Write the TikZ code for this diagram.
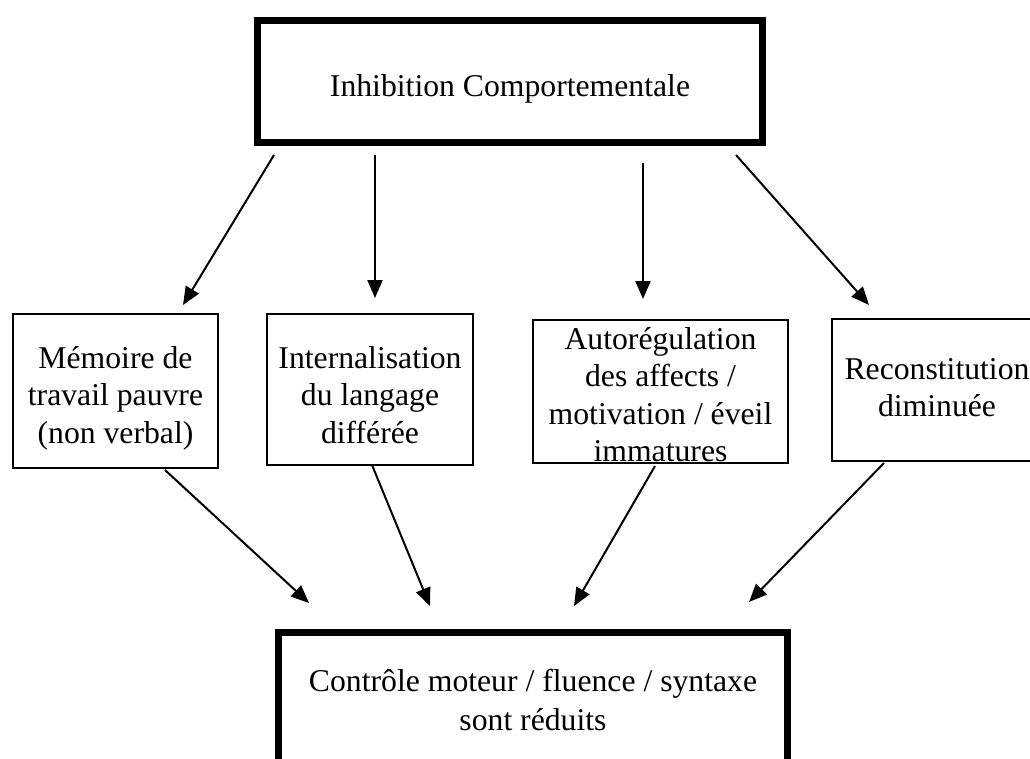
\documentclass[tikz,border=0pt]{standalone}
\usepackage{fontspec}
\setmainfont{Liberation Serif}
\usetikzlibrary{calc,arrows.meta}

\begin{document}
\begin{tikzpicture}[x=1pt,y=-1pt,line width=2pt,
  font=\fontsize{31.7pt}{37.5pt}\selectfont,
  box/.style={draw,anchor=north,inner sep=0pt,align=center},
  bigbox/.style={box,line width=7pt},
  >={Triangle[length=18pt,width=15pt]}]
  \clip (0,0) rectangle (1030,758);
  \node[bigbox,minimum width=505pt,text height=76.5pt,text depth=45.5pt] (inhib) at (510,16.5) {Inhibition Comportementale};
  \node[box,minimum width=205pt,text height=129pt,text depth=25pt] (memoire) at (115.5,313) {Mémoire de\\travail pauvre\\(non verbal)};
  \node[box,minimum width=206pt,text height=129pt,text depth=22pt] (langage) at (370,313) {Internalisation\\du langage\\différée};
  \node[box,minimum width=255pt,text height=141.5pt,text depth=1.5pt] (autoreg) at (660.5,319) {Autorégulation\\des affects /\\motivation / éveil\\immatures};
  \node[box,minimum width=210pt,text height=97.5pt,text depth=44.5pt] (reconst) at (937,318) {Reconstitution\\diminuée};
  \node[bigbox,minimum width=509pt,text height=98.5pt,text depth=43pt,font=\fontsize{31.7pt}{39pt}\selectfont] (result) at (533,628.5) {Contrôle moteur / fluence / syntaxe\\sont réduits};
  % vers le haut
  \draw[->] ($(inhib.south)+(-236,9.5)$) -- ($(memoire.north)+(67.5,-8)$);
  \draw[->] ($(inhib.south)+(-135,9.5)$) -- ($(langage.north)+(5,-15)$);
  \draw[->] ($(inhib.south)+(133,17.5)$) -- ($(autoreg.north)+(-17.5,-20)$);
  \draw[->] ($(inhib.south)+(226,9.5)$) -- ($(reconst.north)+(-68,-13)$);
  % vers le bas
  \draw[->] ($(memoire.south)+(49.5,1)$) -- ($(result.north)+(-224,-25.5)$);
  \draw[->] ($(langage.south)+(2,-1)$) -- ($(result.north)+(-103,-22.5)$);
  \draw[->] ($(autoreg.south)+(-5.5,2)$) -- ($(result.north)+(41,-22.5)$);
  \draw[->] ($(reconst.south)+(-53,1)$) -- ($(result.north)+(216,-26.5)$);
\end{tikzpicture}
\end{document}
